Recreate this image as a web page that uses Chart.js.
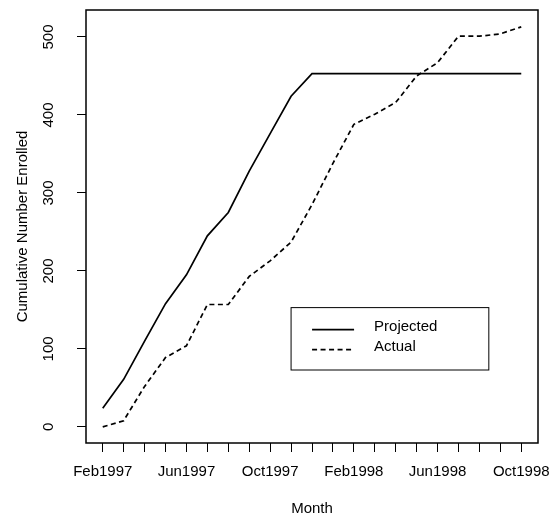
<!DOCTYPE html>
<html>
<head>
<meta charset="utf-8">
<script src="https://cdn.jsdelivr.net/npm/chart.js@4/dist/chart.umd.min.js"></script>
<style>
  html, body { margin: 0; padding: 0; background: #fff; }
  #wrap { width: 553px; height: 519px; }
</style>
</head>
<body>
<div id="wrap"><canvas id="enrol_Chart"></canvas></div>
<script>
// donnees
const months = ['Feb1997', 'Mar1997', 'Apr1997', 'May1997', 'Jun1997', 'Jul1997', 'Aug1997',
  'Sep1997', 'Oct1997', 'Nov1997', 'Dec1997', 'Jan1998', 'Feb1998', 'Mar1998', 'Apr1998',
  'May1998', 'Jun1998', 'Jul1998', 'Aug1998', 'Sep1998', 'Oct1998'];
const projected = [24, 61, 110, 158, 195, 245, 275, 328, 376, 424, 453, 453, 453, 453, 453,
  453, 453, 453, 453, 453, 453];
const actual = [0, 8, 52, 89, 104, 157, 157, 193, 213, 237, 285, 338, 388, 401, 416,
  450, 467, 501, 501, 504, 513];
const yTicks = [0, 100, 200, 300, 400, 500];

const FONT = 'Liberation Sans, Arial, Helvetica, sans-serif';

// pas de marge auto pour les labels qui depassent
function noPad(s) {
  s.paddingLeft = 0; s.paddingRight = 0; s.paddingTop = 0; s.paddingBottom = 0;
}

// cadre autour de la zone de trace + legende facon R
const boxPlugin = {
  id: 'boxPlugin',
  afterDraw(chart) {
    const ctx = chart.ctx;
    const a = chart.chartArea;
    ctx.save();
    ctx.strokeStyle = '#000';
    ctx.lineWidth = 1.5;
    ctx.strokeRect(a.left, a.top, a.right - a.left, a.bottom - a.top);

    // legende placee en coordonnees des donnees (comme legend(x, y) dans R)
    const xs = chart.scales.x, ys = chart.scales.y;
    const lx = xs.getPixelForValue(9), rx = xs.getPixelForValue(18.45);
    const ty = ys.getPixelForValue(153), by = ys.getPixelForValue(73);
    ctx.lineWidth = 1;
    ctx.strokeRect(lx, ty, rx - lx, by - ty);
    ctx.font = '15px ' + FONT;
    ctx.fillStyle = '#000';
    ctx.textBaseline = 'middle';
    chart.data.datasets.forEach((ds, i) => {
      const y = ty + 22 + i * 20;
      ctx.beginPath();
      ctx.lineWidth = 1.7;
      ctx.setLineDash(ds.borderDash || []);
      ctx.moveTo(lx + 21, y);
      ctx.lineTo(lx + 63, y);
      ctx.stroke();
      ctx.setLineDash([]);
      ctx.fillText(ds.label, lx + 83, y - 3);
    });
    ctx.restore();
  }
};

const ctx_line = document.getElementById('enrol_Chart').getContext('2d');
const myChartLine = new Chart(ctx_line, {
  type: 'line',
  data: {
    datasets: [{
      label: 'Projected',
      data: projected.map((v, i) => ({ x: i, y: v })),
      borderColor: '#000',
      borderWidth: 1.7,
      pointRadius: 0,
      fill: false,
      tension: 0
    }, {
      label: 'Actual',
      data: actual.map((v, i) => ({ x: i, y: v })),
      borderColor: '#000',
      borderWidth: 1.7,
      borderDash: [5, 3.5],
      pointRadius: 0,
      fill: false,
      tension: 0
    }]
  },
  options: {
    responsive: true,
    maintainAspectRatio: false,
    animation: false,
    events: [],
    layout: { padding: { top: 10, right: 15, left: 0, bottom: 0 } },
    plugins: {
      legend: { display: false },
      tooltip: { enabled: false }
    },
    scales: {
      x: {
        type: 'linear',
        min: -0.8,
        max: 20.8,
        afterFit: s => { s.height = 76; noPad(s); },
        border: { display: false },
        grid: { drawOnChartArea: false, drawTicks: true, tickLength: 9, color: '#000', lineWidth: 1 },
        ticks: {
          stepSize: 1,
          includeBounds: false,
          autoSkip: false,
          maxRotation: 0,
          minRotation: 0,
          padding: 11,
          color: '#000',
          font: { family: FONT, size: 15 },
          callback: v => (Number.isInteger(v) && v % 4 === 0) ? months[v] : ''
        },
        title: {
          display: true,
          text: 'Month',
          color: '#000',
          font: { family: FONT, size: 15 },
          padding: { top: 0, bottom: 1 }
        }
      },
      y: {
        min: -20.6,
        max: 534.6,
        afterFit: s => { s.width = 86; noPad(s); },
        afterBuildTicks: s => { s.ticks = yTicks.map(v => ({ value: v })); },
        border: { display: false },
        grid: { drawOnChartArea: false, drawTicks: true, tickLength: 9, color: '#000', lineWidth: 1 },
        ticks: {
          includeBounds: false,
          minRotation: 90,
          maxRotation: 90,
          crossAlign: 'center',
          padding: 16,
          color: '#000',
          font: { family: FONT, size: 15 }
        },
        title: {
          display: true,
          text: 'Cumulative Number Enrolled',
          color: '#000',
          font: { family: FONT, size: 15 },
          padding: { top: 14, bottom: 0 }
        }
      }
    }
  },
  plugins: [boxPlugin]
});
</script>
</body>
</html>
